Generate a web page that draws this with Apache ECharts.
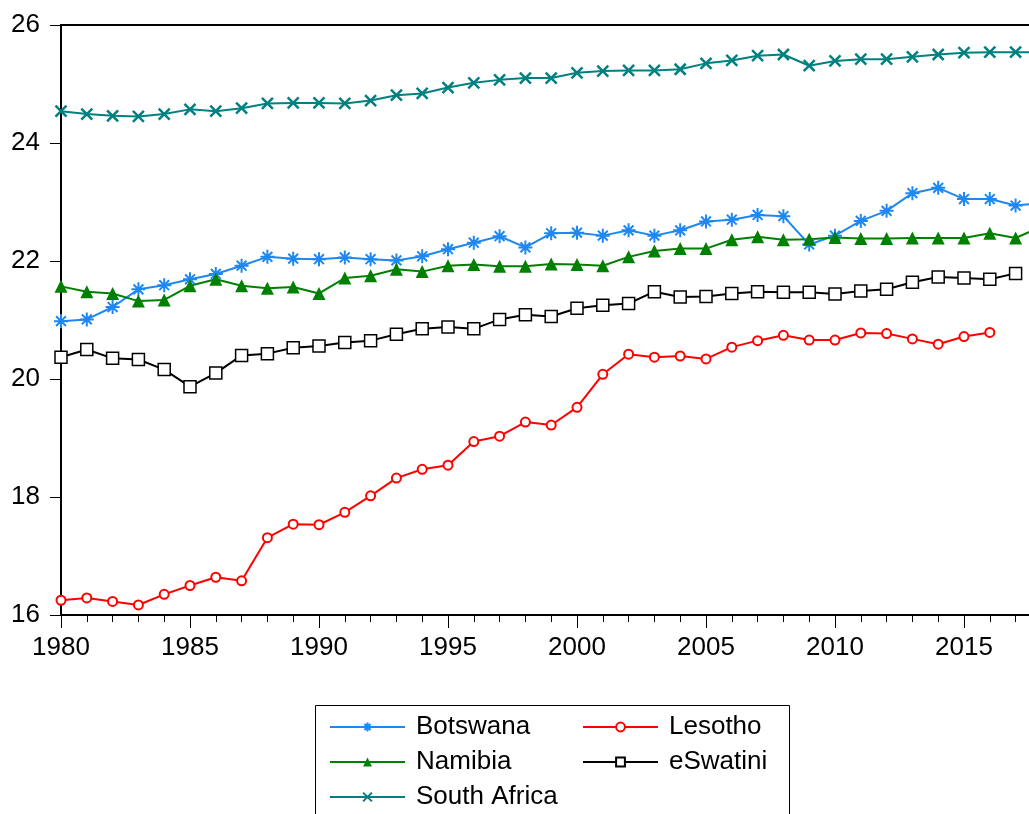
<!DOCTYPE html>
<html>
<head>
<meta charset="utf-8">
<title>Southern Africa</title>
<script src="https://cdn.jsdelivr.net/npm/echarts@6/dist/echarts.min.js"></script>
<style>
  html, body { margin: 0; padding: 0; background: #fff; }
  #chart { width: 1029px; height: 814px; }
</style>
</head>
<body>
<div id="chart"></div>
<script>
const years = [1980, 1981, 1982, 1983, 1984, 1985, 1986, 1987, 1988, 1989,
  1990, 1991, 1992, 1993, 1994, 1995, 1996, 1997, 1998, 1999,
  2000, 2001, 2002, 2003, 2004, 2005, 2006, 2007, 2008, 2009,
  2010, 2011, 2012, 2013, 2014, 2015, 2016, 2017, 2018]

const botswana = [20.98, 21.01, 21.22, 21.52, 21.59, 21.69, 21.78, 21.92, 22.07, 22.04,
  22.03, 22.06, 22.03, 22.01, 22.08, 22.20, 22.31, 22.42, 22.23, 22.47,
  22.48, 22.43, 22.52, 22.43, 22.52, 22.67, 22.70, 22.78, 22.76, 22.28,
  22.43, 22.68, 22.85, 23.15, 23.24, 23.05, 23.05, 22.94, 22.98]

const namibia = [21.57, 21.48, 21.45, 21.32, 21.34, 21.58, 21.69, 21.58, 21.54, 21.56,
  21.45, 21.71, 21.75, 21.86, 21.82, 21.92, 21.94, 21.91, 21.91, 21.95,
  21.94, 21.92, 22.07, 22.17, 22.21, 22.21, 22.36, 22.41, 22.36, 22.37,
  22.40, 22.38, 22.38, 22.39, 22.39, 22.39, 22.47, 22.39, 22.58]

const southAfrica = [24.54, 24.49, 24.46, 24.45, 24.49, 24.57, 24.54, 24.59, 24.67, 24.68,
  24.68, 24.67, 24.72, 24.81, 24.84, 24.94, 25.02, 25.07, 25.10, 25.10,
  25.19, 25.22, 25.23, 25.23, 25.25, 25.35, 25.40, 25.48, 25.50, 25.31,
  25.39, 25.42, 25.42, 25.46, 25.50, 25.53, 25.54, 25.54, 25.54]

const lesotho = [16.25, 16.29, 16.23, 16.17, 16.35, 16.50, 16.64, 16.58, 17.31, 17.54,
  17.53, 17.74, 18.02, 18.32, 18.47, 18.54, 18.94, 19.03, 19.27, 19.22,
  19.52, 20.08, 20.42, 20.37, 20.39, 20.34, 20.54, 20.65, 20.74, 20.66,
  20.66, 20.78, 20.77, 20.68, 20.59, 20.72, 20.79, null, null]

const eswatini = [20.37, 20.50, 20.35, 20.33, 20.16, 19.87, 20.10, 20.40, 20.43, 20.53,
  20.56, 20.62, 20.65, 20.76, 20.85, 20.88, 20.85, 21.01, 21.09, 21.06,
  21.20, 21.25, 21.28, 21.48, 21.39, 21.40, 21.45, 21.48, 21.47, 21.47,
  21.44, 21.49, 21.52, 21.64, 21.73, 21.71, 21.69, 21.79, null]

const yTicks = { min: 16, max: 26, step: 2 }

const fontName = 'Liberation Sans'
const asterisk = 'path://M5 0L5 10M0 5L10 5M1.5 1.5L8.5 8.5M8.5 1.5L1.5 8.5'
const cross = 'path://M0 0L10 10M10 0L0 10'

function pairs(vals) {
  return years.map((y, i) => [y, vals[i]])
}

function line(name, vals, color, symbol, size, itemStyle) {
  return {
    name: name,
    type: 'line',
    data: pairs(vals),
    symbol: symbol,
    symbolSize: size,
    showAllSymbol: true,
    connectNulls: false,
    animation: false,
    lineStyle: { color: color, width: 2 },
    itemStyle: Object.assign({ color: color }, itemStyle || {})
  }
}

const chart = echarts.init(document.getElementById('chart'))
chart.setOption({
  backgroundColor: '#fff',
  animation: false,
  grid: {
    left: 61,
    top: 25,
    width: 1032,
    bottom: 199,
    outerBoundsMode: 'none',
    containLabel: false,
    show: true,
    borderColor: '#000',
    borderWidth: 2
  },
  xAxis: {
    type: 'value',
    min: 1980,
    max: 2020,
    interval: 5,
    axisLine: { show: true, lineStyle: { color: '#000', width: 2 } },
    axisTick: { show: true, inside: false, length: 13, lineStyle: { color: '#000', width: 1 } },
    minorTick: { show: true, splitNumber: 5, length: 7, lineStyle: { color: '#000', width: 1 } },
    splitLine: { show: false },
    axisLabel: {
      color: '#000',
      fontFamily: fontName,
      fontSize: 26,
      margin: 20,
      formatter: v => String(v)
    }
  },
  yAxis: {
    type: 'value',
    min: yTicks.min,
    max: yTicks.max,
    interval: yTicks.step,
    axisLine: { show: true, lineStyle: { color: '#000', width: 2 } },
    axisTick: { show: true, inside: false, length: 11, lineStyle: { color: '#000', width: 1 } },
    splitLine: { show: false },
    axisLabel: {
      color: '#000',
      fontFamily: fontName,
      fontSize: 26,
      margin: 21
    }
  },
  legend: [
    {
      data: ['Botswana', 'Namibia', 'South Africa'],
      orient: 'vertical',
      left: 329,
      top: 714,
      padding: 0,
      itemWidth: 75,
      itemHeight: 11,
      itemGap: 9,
      textStyle: { color: '#000', fontFamily: fontName, fontSize: 26, lineHeight: 26, padding: [0, 0, 0, 6] }
    },
    {
      data: ['Lesotho', 'eSwatini'],
      orient: 'vertical',
      left: 582,
      top: 714,
      padding: 0,
      itemWidth: 75,
      itemHeight: 11,
      itemGap: 9,
      textStyle: { color: '#000', fontFamily: fontName, fontSize: 26, lineHeight: 26, padding: [0, 0, 0, 6] }
    }
  ],
  graphic: [{
    type: 'rect',
    left: 313,
    top: 703,
    shape: { width: 474, height: 130 },
    style: { fill: 'none', stroke: '#000', lineWidth: 1 },
    silent: true
  }],
  series: [
    line('Botswana', botswana, '#1E88F0', asterisk, 14, { borderColor: '#1E88F0', borderWidth: 2 }),
    line('Namibia', namibia, '#008000', 'triangle', 13),
    line('South Africa', southAfrica, '#008080', cross, 11, { borderColor: '#008080', borderWidth: 2.5 }),
    line('Lesotho', lesotho, '#FF0000', 'emptyCircle', 9, { borderWidth: 1.5 }),
    line('eSwatini', eswatini, '#000000', 'rect', 12, { color: '#fff', borderColor: '#000', borderWidth: 1.5 })
  ]
})
</script>
</body>
</html>
